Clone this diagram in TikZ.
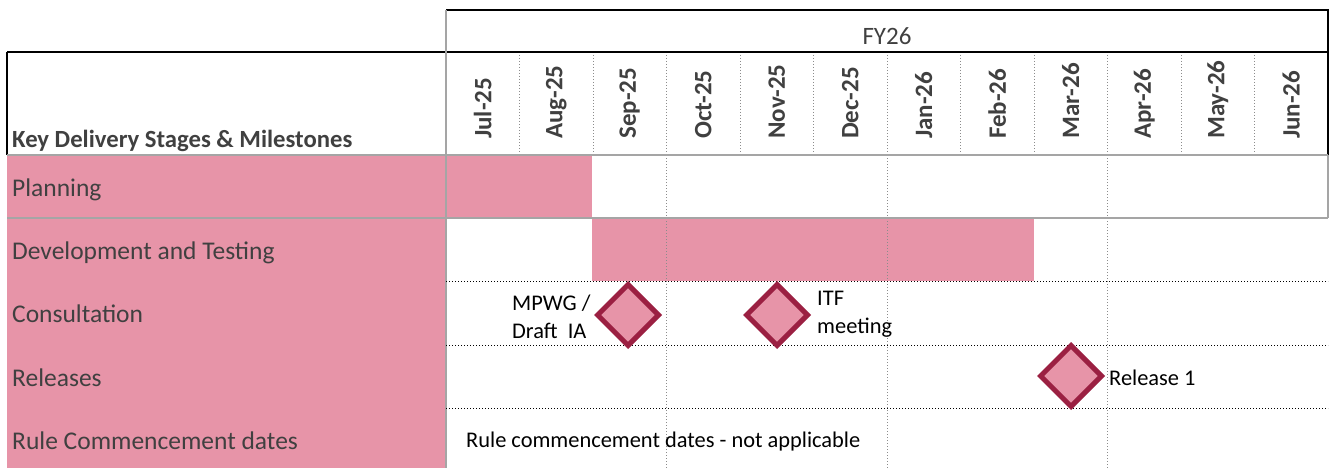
\documentclass[tikz,border=0pt]{standalone}
\usepackage{fontspec}
\setmainfont{Carlito}
\usetikzlibrary{shapes.geometric}
\definecolor{barpink}{RGB}{231,148,168}
\definecolor{msred}{RGB}{155,32,66}
\definecolor{txtgray}{RGB}{64,64,64}
\definecolor{gridgray}{RGB}{165,165,165}
\definecolor{dotgray}{RGB}{140,140,140}
\begin{document}
\begin{tikzpicture}[x=1pt,y=-1pt,
  rowlabel/.style={anchor=base west, font=\fontsize{25.5}{30}\selectfont, text=txtgray, inner sep=0pt},
  headlabel/.style={anchor=base west, font=\bfseries\fontsize{24.7}{30}\selectfont, text=txtgray, inner sep=0pt},
  monthlabel/.style={rotate=90, anchor=west, font=\bfseries\fontsize{25}{30}\selectfont, text=txtgray, inner sep=0pt},
  fylabel/.style={anchor=base, font=\fontsize{25}{30}\selectfont, text=txtgray, inner sep=0pt},
  milestone/.style={diamond, aspect=1, minimum size=63pt, inner sep=0pt, fill=barpink, draw=msred, line width=5pt},
  mslabel/.style={anchor=base west, font=\fontsize{22.4}{27.5}\selectfont, text=black, inner sep=0pt, align=left},
  barfill/.style={fill=barpink},
  blackline/.style={draw=black, line width=1.3pt},
  grayline/.style={draw=gridgray, line width=1.3pt},
  rowdots/.style={draw=black, dotted, line width=1pt},
  coldots/.style={draw=dotgray, dotted, line width=1pt}]
\useasboundingbox (0,0) rectangle (1329,468);
% fills
\fill[barfill] (7,155) rectangle (446,468);
\fill[barfill] (446,155) rectangle (592,218);
\fill[barfill] (592,218) rectangle (1034,281);
% grid
\foreach \k in {1,...,11} {
  \draw[coldots] ({446+73.5*\k},52) -- ({446+73.5*\k},155);
}
\foreach \xx in {666,887,1107} {
  \draw[coldots] (\xx,155) -- (\xx,468);
}
\draw[blackline] (446,10) -- (1328,10) -- (1328,155);
\draw[blackline] (7,52) -- (1328,52);
\draw[blackline] (7,52) -- (7,155);
\draw[grayline] (446,10) -- (446,468);
\draw[draw=gridgray, line width=2pt] (7,155) -- (1328,155);
\draw[grayline] (7,218) -- (1328,218);
\draw[grayline] (1328,155) -- (1328,218);
\draw[rowdots] (446,281) -- (1328,281);
\draw[rowdots] (446,345) -- (1328,345);
\draw[rowdots] (446,408) -- (1328,408);
% header texts
\node[fylabel] (fy) at (887,45) {FY26};
\node[headlabel] (hdr) at (12,147) {Key Delivery Stages \& Milestones};
\foreach \m [count=\i from 0] in {Jul-25,Aug-25,Sep-25,Oct-25,Nov-25,Dec-25,Jan-26,Feb-26,Mar-26,Apr-26,May-26,Jun-26} {
  \node[monthlabel] (m\i) at ({446+73.5*(\i+0.5)},139) {\m};
}
% row labels
\node[rowlabel] (r1) at (12,196) {Planning};
\node[rowlabel] (r2) at (12,259) {Development and Testing};
\node[rowlabel] (r3) at (12,322) {Consultation};
\node[rowlabel] (r4) at (12,386) {Releases};
\node[rowlabel] (r5) at (12,449) {Rule Commencement dates};
% milestones
\node[milestone] (d1) at (628,315) {};
\node[milestone] (d2) at (777,315) {};
\node[milestone] (d3) at (1071,376) {};
\node[mslabel] (l1) at (512,338) {MPWG /\\Draft\ \ IA};
\node[mslabel] (l2) at (817,333) {ITF\\meeting};
\node[mslabel] (l3) at (1109,385) {Release 1};
\node[mslabel] (l4) at (466,447) {Rule commencement dates - not applicable};
\end{tikzpicture}
\end{document}
